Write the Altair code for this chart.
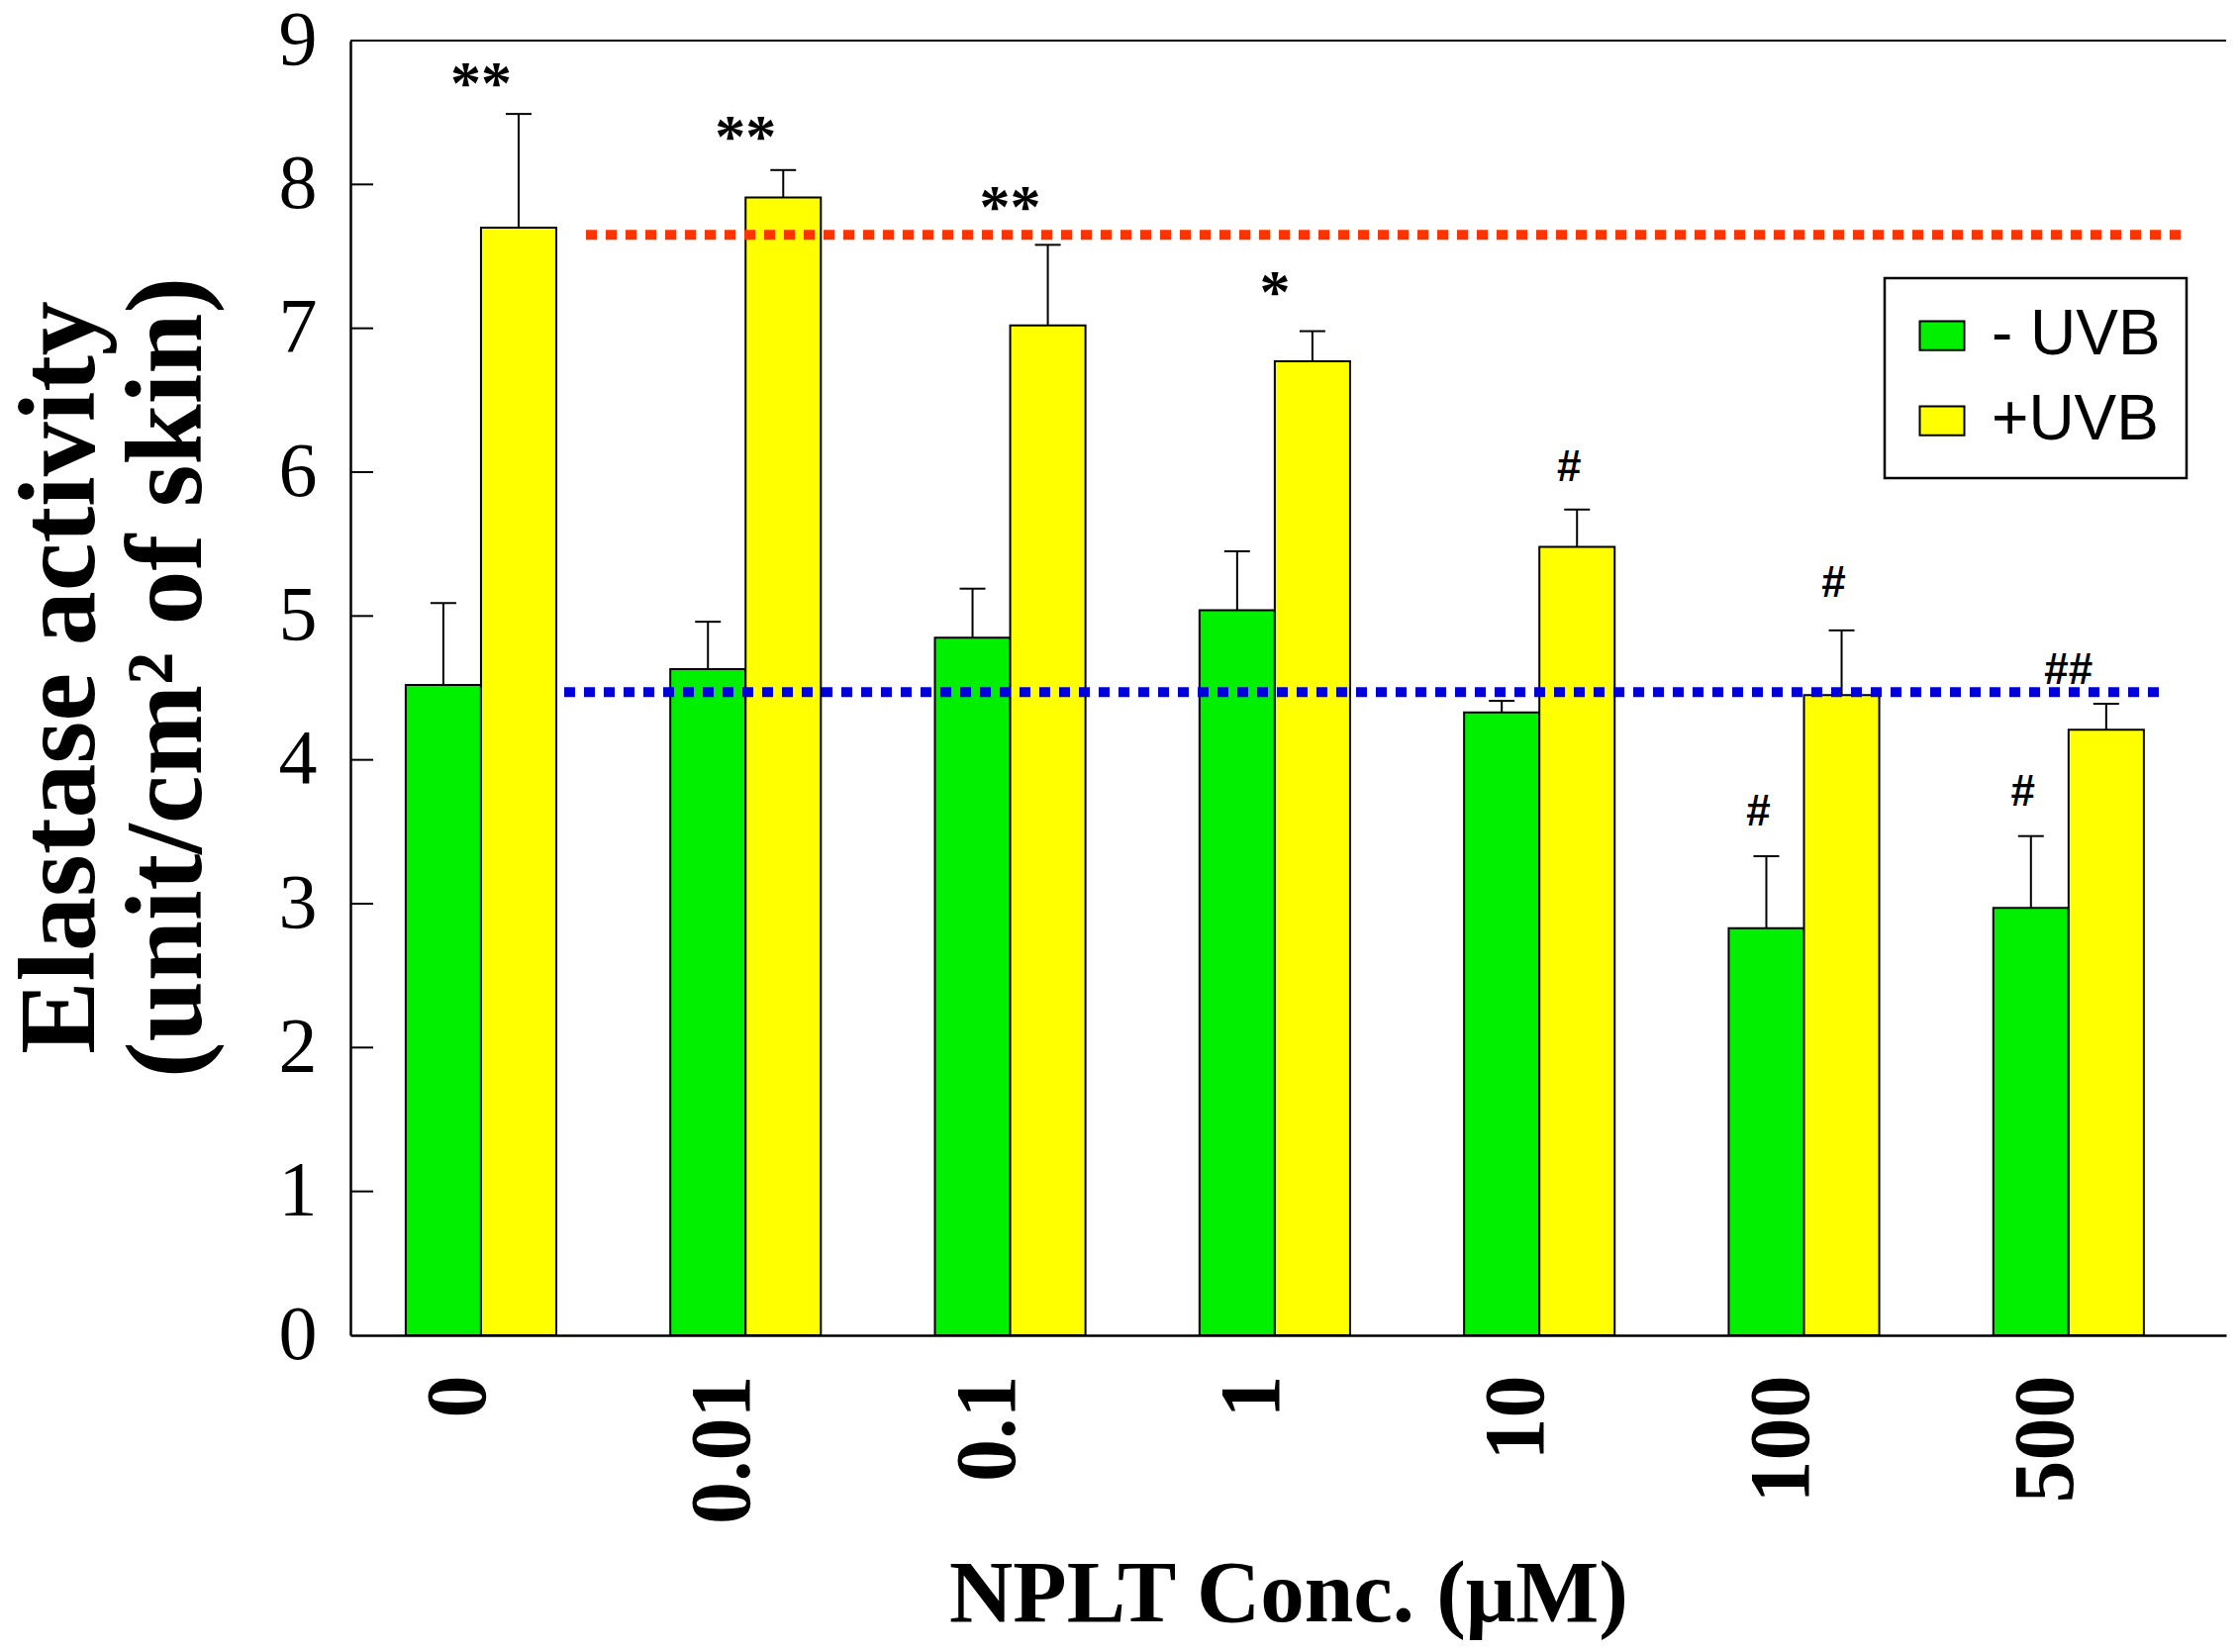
import altair as alt
import pandas as pd

# ---------------- data ----------------
concs = ["0", "0.01", "0.1", "1", "10", "100", "500"]
series = ["- UVB", "+UVB"]
minus_uvb = [4.52, 4.63, 4.85, 5.04, 4.33, 2.83, 2.97]
minus_sem = [0.57, 0.33, 0.34, 0.41, 0.08, 0.50, 0.50]
plus_uvb = [7.70, 7.91, 7.02, 6.77, 5.48, 4.45, 4.21]
plus_sem = [0.79, 0.19, 0.56, 0.21, 0.26, 0.45, 0.18]

ref_plus_level = [7.65]    # red dotted reference (+UVB control)
ref_minus_level = [4.47]   # blue dotted reference (-UVB control)

ann_conc = ["0", "0.01", "0.1", "1", "10", "100", "500", "100", "500"]
ann_anchor = ["group", "group", "group", "group", "+UVB", "+UVB", "group", "- UVB", "- UVB"]
ann_text = ["**", "**", "**", "*", "#", "#", "##", "#", "#"]
ann_y = [8.78, 8.41, 7.92, 7.33, 6.03, 5.22, 4.62, 3.63, 3.77]

y_labels = [0, 1, 2, 3, 4, 5, 6, 7, 8, 9]
y_inner_ticks = [1, 2, 3, 4, 5, 6, 7, 8]
y_top = [9]

# ---------------- tables ----------------
rows = []
for i, c in enumerate(concs):
    rows.append({"conc": c, "series": series[0], "value": minus_uvb[i], "upper": minus_uvb[i] + minus_sem[i]})
    rows.append({"conc": c, "series": series[1], "value": plus_uvb[i], "upper": plus_uvb[i] + plus_sem[i]})
bar_df = pd.DataFrame(rows)

ann_df = pd.DataFrame({"conc": ann_conc, "anchor": ann_anchor, "text": ann_text, "y": ann_y})
stars_df = ann_df[(ann_df.anchor == "group") & (ann_df.text.str.contains(r"\*"))]
hash_group_df = ann_df[(ann_df.anchor == "group") & (ann_df.text.str.contains("#"))]
hash_series_df = ann_df[ann_df.anchor != "group"].rename(columns={"anchor": "series"})

W, H = 1895, 1308

xscale = alt.Scale(domain=concs, paddingInner=0.431, paddingOuter=0.26, align=0.402)
yscale = alt.Scale(domain=[0, 9], nice=False, zero=True)
offscale = alt.Scale(domain=series)
color_scale = alt.Scale(domain=series, range=["#00F000", "#FFFF00"])

x_axis = alt.Axis(
    title="NPLT Conc. (μM)", labelAngle=-90, labelAlign="right", labelBaseline="middle",
    labelPadding=40, labelOffset=-22, ticks=False, grid=False,
    domainColor="black", domainWidth=2.5,
    labelFont="Liberation Serif", labelFontSize=86, labelFontWeight="bold", labelColor="black",
    titleFont="Liberation Serif", titleFontSize=89, titleFontWeight="bold", titleColor="black",
    titleBaseline="alphabetic", titleY=288,
)
y_axis = alt.Axis(
    title=["Elastase activity", "(unit/cm² of skin)"], values=y_labels, ticks=False, grid=False,
    domainColor="black", domainWidth=2.5,
    labelFont="Liberation Serif", labelFontSize=78, labelColor="black", labelPadding=34,
    titleFont="Liberation Serif", titleFontSize=110, titleFontWeight="bold", titleColor="black",
    titleLineHeight=108, titleAngle=-90, titleAlign="center", titleBaseline="bottom",
    titleX=-237, titleY=643,
)

X = alt.X("conc:N", scale=xscale, axis=x_axis)
XO = alt.XOffset("series:N", scale=offscale)

legend = alt.Legend(
    title=None, orient="none", legendX=1550, legendY=240, direction="vertical",
    strokeColor="black", fillColor="white", padding=26, rowPadding=22,
    symbolType="M-1,-0.65L1,-0.65L1,0.65L-1,0.65Z", symbolSize=2025,
    symbolStrokeColor="black", symbolStrokeWidth=2, symbolOpacity=1,
    labelFont="Liberation Sans", labelFontSize=64, labelColor="black", labelOffset=18,
    labelLimit=600,
)

bars = alt.Chart(bar_df).mark_bar(stroke="black", strokeWidth=2, opacity=1).encode(
    x=X, xOffset=XO,
    y=alt.Y("value:Q", scale=yscale, axis=y_axis),
    color=alt.Color("series:N", scale=color_scale, legend=legend),
)

err = alt.Chart(bar_df).mark_rule(color="black", strokeWidth=2).encode(
    x=X, xOffset=XO,
    y=alt.Y("value:Q", scale=yscale, axis=y_axis), y2="upper:Q",
)
caps = alt.Chart(bar_df).mark_tick(color="black", thickness=2, size=26, opacity=1).encode(
    x=X, xOffset=XO,
    y=alt.Y("upper:Q", scale=yscale, axis=y_axis),
)

red_line = alt.Chart(pd.DataFrame({"level": ref_plus_level})).mark_rule(
    color="#FF3300", strokeWidth=10, strokeDash=[11, 9], strokeCap="butt"
).encode(y=alt.Y("level:Q", scale=yscale, axis=y_axis), x=alt.value(238), x2=alt.value(1858))

blue_line = alt.Chart(pd.DataFrame({"level": ref_minus_level})).mark_rule(
    color="#0000DD", strokeWidth=10, strokeDash=[11, 9], strokeCap="butt"
).encode(y=alt.Y("level:Q", scale=yscale, axis=y_axis), x=alt.value(216), x2=alt.value(1835))

inner_ticks = alt.Chart(pd.DataFrame({"v": y_inner_ticks})).mark_rule(color="black", strokeWidth=2).encode(
    y=alt.Y("v:Q", scale=yscale, axis=y_axis), x=alt.value(0), x2=alt.value(23)
)
top_frame = alt.Chart(pd.DataFrame({"v": y_top})).mark_rule(color="black", strokeWidth=2).encode(
    y=alt.Y("v:Q", scale=yscale, axis=y_axis), x=alt.value(0), x2=alt.value(W)
)

stars = alt.Chart(stars_df).mark_text(
    font="Liberation Serif", fontSize=62, fontWeight="bold", baseline="middle", dy=12, color="black"
).encode(x=X, y=alt.Y("y:Q", scale=yscale, axis=y_axis), text="text:N")

hash_group = alt.Chart(hash_group_df).mark_text(
    font="Liberation Sans", fontSize=44, fontWeight="bold", baseline="middle", color="black"
).encode(x=X, y=alt.Y("y:Q", scale=yscale, axis=y_axis), text="text:N")

hash_series = alt.Chart(hash_series_df).mark_text(
    font="Liberation Sans", fontSize=44, fontWeight="bold", baseline="middle", dx=-8, color="black"
).encode(x=X, xOffset=XO, y=alt.Y("y:Q", scale=yscale, axis=y_axis), text="text:N")

chart = alt.layer(
    bars, red_line, blue_line, err, caps, inner_ticks, top_frame, stars, hash_group, hash_series
).properties(
    width=W, height=H,
    padding={"left": 346, "top": 33, "right": 5, "bottom": 310},
    autosize=alt.AutoSizeParams(type="none"),
    background="white",
).configure_view(stroke=None).configure_legend(strokeWidth=2.5)

chart.save("out.html", embed_options={"renderer": "svg", "actions": False})
